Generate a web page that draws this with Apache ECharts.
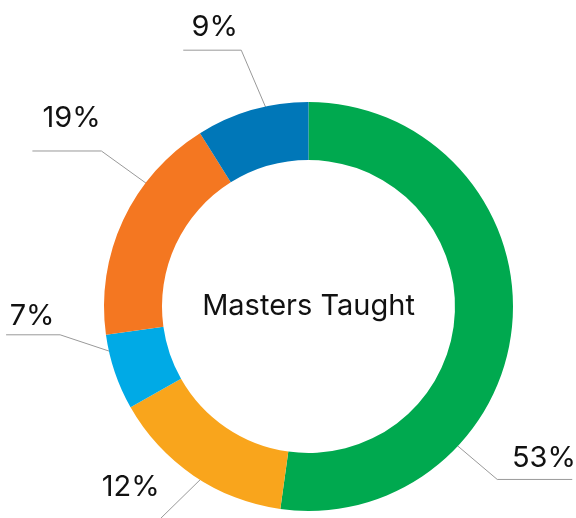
<!DOCTYPE html>
<html>
<head>
<meta charset="utf-8">
<script src="https://cdn.jsdelivr.net/npm/echarts@6/dist/echarts.min.js"></script>
<style>
    html, body { margin: 0; padding: 0; background: #fff; }
    #chart { width: 576px; height: 518px; }
</style>
</head>
<body>
<div id="chart"></div>
<script>
const values = [52.2, 14.6, 6.0, 18.3, 8.9];
// printed labels
const labels = ['53%', '12%', '7%', '19%', '9%'];
const colors = ['#00a94f', '#f9a51c', '#00aae6', '#f47721', '#0077b8'];
const centerText = 'Masters Taught';

const cx = 308.5;
const cy = 306.5;

// leader line routing: start / elbow as [deg clockwise from top, radius], arm length, text offset from elbow
const leaders = [
    { start: [133.5, 177], elbow: [132.5, 256], arm: 75, text: [46.7, -21.3] },
    { start: [212, 204], elbow: [215.1, 263], arm: -60, text: [-26.5, -34] },
    { start: [256.1, 197], elbow: [263.5, 250], arm: -54, text: [-28, -19] },
    { start: [307.3, 191], elbow: [306.9, 259], arm: -69, text: [-29.7, -33] },
    { start: [349, 185], elbow: [345.3, 265], arm: -58, text: [-26.5, -23] }
];

const polar = function (deg, r) {
    let a = deg * Math.PI / 180;
    return [cx + r * Math.sin(a), cy - r * Math.cos(a)];
}

const chart = echarts.init(document.getElementById('chart'));

chart.setOption({
    animation: false,
    textStyle: {
        fontFamily: 'Inter, Roboto, sans-serif'
    },
    graphic: [{
        type: 'text',
        x: cx,
        y: cy,
        style: {
            text: centerText,
            x: 0,
            y: 0,
            align: 'center',
            verticalAlign: 'middle',
            fontFamily: 'Inter, Roboto, sans-serif',
            fontSize: 29,
            fill: '#111'
        }
    }],
    series: [{
        type: 'pie',
        center: [cx, cy],
        radius: [146.5, 204.5],
        startAngle: 90,
        clockwise: true,
        silent: true,
        avoidLabelOverlap: false,
        label: {
            show: true,
            position: 'outside',
            formatter: function (p) { return labels[p.dataIndex]; },
            fontFamily: 'Inter, Roboto, sans-serif',
            fontSize: 29,
            color: '#111'
        },
        labelLine: {
            show: true,
            length: 20,
            length2: 20,
            lineStyle: {
                color: '#999',
                width: 1
            }
        },
        labelLayout: function (params) {
            let l = leaders[params.dataIndex];
            let p0 = polar(l.start[0], l.start[1]);
            let p1 = polar(l.elbow[0], l.elbow[1]);
            let p2 = [p1[0] + l.arm, p1[1]];
            return {
                x: p1[0] + l.text[0],
                y: p1[1] + l.text[1],
                align: 'center',
                verticalAlign: 'middle',
                labelLinePoints: [p0, p1, p2]
            };
        },
        itemStyle: {
            borderWidth: 0
        },
        data: values.map(function (v, i) {
            return { value: v, name: labels[i], itemStyle: { color: colors[i] } };
        })
    }]
});
</script>
</body>
</html>
